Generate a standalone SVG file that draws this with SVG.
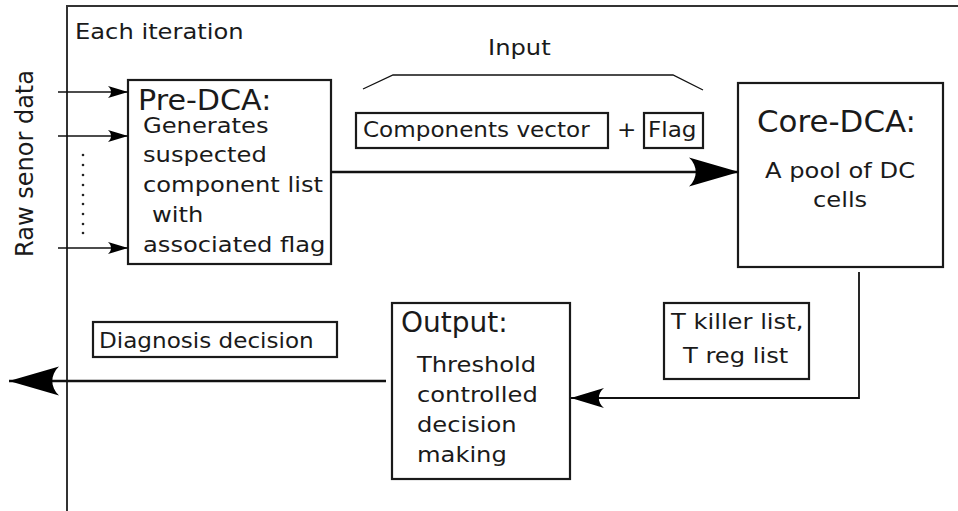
<svg xmlns="http://www.w3.org/2000/svg" width="958" height="511" viewBox="0 0 958 511">
  <style>
    text { font-family: "DejaVu Sans", "Liberation Sans", sans-serif; fill: #1a1a1a; }
    .body { font-size: 22px; }
    .head { font-size: 29px; }
    .lbl { font-size: 21px; }
    .box { fill: #ffffff; stroke: #1a1a1a; stroke-width: 2.2; }
    .frame { fill: none; stroke: #333333; stroke-width: 2; }
    .wire-lg { fill: none; stroke: #111111; stroke-width: 2.6; }
    .wire-md { fill: none; stroke: #111111; stroke-width: 1.8; }
    .wire-sm { fill: none; stroke: #111111; stroke-width: 1.3; }
    .dot { fill: #222222; }
  </style>
  <defs>
    <!-- concave-backed arrowheads, tip at the path end -->
    <marker id="head-lg" markerUnits="userSpaceOnUse" markerWidth="60" markerHeight="36" refX="0" refY="0" viewBox="-54 -18 60 36" orient="auto" overflow="visible">
      <path d="M0,0 L-50,-14.5 C-41,-6 -41,6 -50,14.5 Z" fill="#000000"/>
    </marker>
    <marker id="head-md" markerUnits="userSpaceOnUse" markerWidth="40" markerHeight="26" refX="0" refY="0" viewBox="-36 -13 40 26" orient="auto" overflow="visible">
      <path d="M0,0 L-33,-10 C-26,-4 -26,4 -33,10 Z" fill="#000000"/>
    </marker>
    <marker id="head-sm" markerUnits="userSpaceOnUse" markerWidth="26" markerHeight="16" refX="0" refY="0" viewBox="-23 -8 26 16" orient="auto" overflow="visible">
      <path d="M0,0 L-20,-6 C-16,-2.5 -16,2.5 -20,6 Z" fill="#000000"/>
    </marker>
  </defs>

  <rect width="958" height="511" fill="#ffffff"/>

  <!-- iteration frame -->
  <g id="iteration-frame">
    <path class="frame" d="M67,511 L67,6 L958,6"/>
    <text class="body" transform="translate(75,39) scale(1.1,1)">Each iteration</text>
  </g>

  <!-- raw sensor inputs label and ellipsis -->
  <g id="raw-data">
    <text class="body" textLength="187" lengthAdjust="spacingAndGlyphs" transform="translate(33,257) scale(1.1,1) rotate(-90)">Raw senor data</text>
    <g class="dot">
      <circle cx="83" cy="155" r="1.3"/>
      <circle cx="83" cy="165" r="1.3"/>
      <circle cx="83" cy="175" r="1.3"/>
      <circle cx="83" cy="185" r="1.3"/>
      <circle cx="83" cy="195" r="1.3"/>
      <circle cx="83" cy="204" r="1.3"/>
      <circle cx="83" cy="214" r="1.3"/>
      <circle cx="83" cy="224" r="1.3"/>
      <circle cx="83" cy="233" r="1.3"/>
    </g>
  </g>

  <g id="pre-dca">
    <rect class="box" x="128" y="80" width="203" height="184"/>
    <text class="head" transform="translate(138,110) scale(1.04,1)">Pre-DCA:</text>
    <text class="body" transform="translate(143,133) scale(1.1,1)">Generates</text>
    <text class="body" transform="translate(143,162) scale(1.1,1)">suspected</text>
    <text class="body" transform="translate(143,192) scale(1.1,1)">component list</text>
    <text class="body" transform="translate(152,222) scale(1.1,1)">with</text>
    <text class="body" transform="translate(143,252) scale(1.1,1)">associated flag</text>
  </g>

  <g id="input-label">
    <path class="wire-sm" d="M363,89 L393,75 L673,75 L703,90"/>
    <text class="body" transform="translate(488,55) scale(1.1,1)">Input</text>
  </g>

  <g id="components-vector">
    <rect class="box" x="356" y="113" width="252" height="35"/>
    <text class="lbl" transform="translate(363,137) scale(1.1,1)">Components vector</text>
  </g>

  <g id="plus-sign">
    <text class="lbl" transform="translate(617,137) scale(1.1,1)">+</text>
  </g>

  <g id="flag">
    <rect class="box" x="644" y="113" width="59" height="35"/>
    <text class="lbl" transform="translate(648,137) scale(1.1,1)">Flag</text>
  </g>

  <g id="core-dca">
    <rect class="box" x="738" y="83" width="205" height="184"/>
    <text class="head" style="font-size:30px" transform="translate(757,132) scale(1.03,1)">Core-DCA:</text>
    <text class="body" transform="translate(765,178) scale(1.1,1)">A pool of DC</text>
    <text class="body" transform="translate(813,207) scale(1.1,1)">cells</text>
  </g>

  <g id="t-lists">
    <rect class="box" x="664" y="303" width="145" height="76"/>
    <text class="body" transform="translate(671,329) scale(1.1,1)">T killer list,</text>
    <text class="body" transform="translate(683,363) scale(1.1,1)">T reg list</text>
  </g>

  <g id="output">
    <rect class="box" x="392" y="303" width="178" height="176"/>
    <text class="head" x="401" y="332" style="font-size:28px">Output:</text>
    <text class="body" transform="translate(417,372) scale(1.1,1)">Threshold</text>
    <text class="body" transform="translate(417,402) scale(1.1,1)">controlled</text>
    <text class="body" transform="translate(417,432) scale(1.1,1)">decision</text>
    <text class="body" transform="translate(417,462) scale(1.1,1)">making</text>
  </g>

  <g id="diagnosis-decision">
    <rect class="box" x="93" y="322" width="244" height="35"/>
    <text class="lbl" transform="translate(99,348) scale(1.1,1)">Diagnosis decision</text>
  </g>

  <!-- connectors -->
  <g id="connectors">
    <path class="wire-sm" d="M58,92 L128,92" marker-end="url(#head-sm)"/>
    <path class="wire-sm" d="M58,136 L128,136" marker-end="url(#head-sm)"/>
    <path class="wire-sm" d="M58,248 L128,248" marker-end="url(#head-sm)"/>
    <path class="wire-lg" d="M331,172 L739,172" marker-end="url(#head-lg)"/>
    <path class="wire-md" d="M859,272 L859,398 L571,398" marker-end="url(#head-md)"/>
    <path class="wire-lg" d="M386,381 L9,381" marker-end="url(#head-lg)"/>
  </g>
</svg>
